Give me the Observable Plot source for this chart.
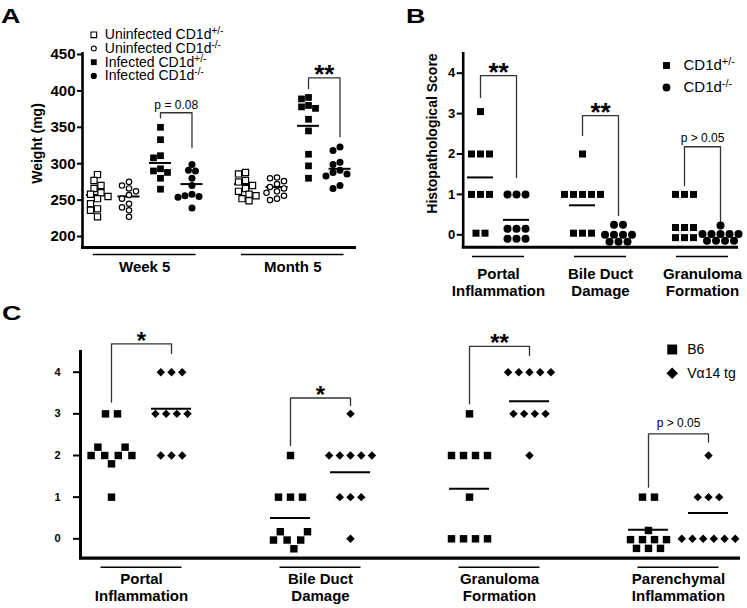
<!DOCTYPE html>
<html><head><meta charset="utf-8">
<script src="https://cdn.jsdelivr.net/npm/d3@7"></script>
<script src="https://cdn.jsdelivr.net/npm/@observablehq/plot@0.6"></script>
<style>
body{margin:0;background:#fff}
#fig{position:relative;width:747px;height:608px;font-family:"Liberation Sans",Arial,sans-serif;overflow:hidden}
#fig svg{position:absolute}
.letter{position:absolute;font-weight:bold;font-size:21px;line-height:1;transform-origin:left top;transform:scaleX(1.28)}
</style></head><body><div id="fig"></div>
<script>
// ================= DATA =================
// ---- Panel A : liver weight (mg) ----
const aTimepoints = ["Week 5", "Month 5"];
const aSeries = ["Uninfected CD1d^+/-", "Uninfected CD1d^-/-", "Infected CD1d^+/-", "Infected CD1d^-/-"];
const aWeek5 = [
  [285, 277, 270, 266, 260, 258, 255, 252, 245, 238, 236, 227],
  [275, 270, 266, 262, 257, 252, 245, 240, 236, 227],
  [350, 333, 311, 308, 293, 290, 288, 280, 265],
  [299, 291, 290, 280, 270, 258, 256, 255, 254, 239]
];
const aMonth5 = [
  [288, 286, 277, 275, 270, 266, 262, 258, 256, 252, 249],
  [281, 280, 276, 272, 268, 266, 262, 260, 256, 252, 250],
  [391, 389, 380, 378, 376, 361, 345, 313, 297, 280],
  [323, 318, 302, 299, 291, 288, 286, 283, 270, 266]
];
const aMeans = [[257, 255, 301, 272], [272, 268, 352, 293]];
const aYTicks = [200, 250, 300, 350, 400, 450];
const aBrackets = [
  {time: 0, from: 2, to: 3, left: 363, right: 322, top: 370, label: "p = 0.08"},
  {time: 1, from: 2, to: 3, left: 403, right: 337, top: 418, label: "**"}
];
const aYLabel = "Weight (mg)";

// ---- Panel B : histopathological score, CD1d ----
const bCategories = [["Portal", "Inflammation"], ["Bile Duct", "Damage"], ["Granuloma", "Formation"]];
const bSeries = ["CD1d^+/-", "CD1d^-/-"];
const bHet = [ // rows of points, top to bottom
  [[3.05], [2, 2, 2], [1, 1, 1], [0.04, 0.04]],
  [[2], [1, 1, 1, 1, 1], [0.04, 0.04, 0.04]],
  [[1, 1, 1], [0.18, 0.18, 0.18], [-0.07, -0.07, -0.07]]
];
const bKo = [
  [[1, 1, 1], [0.15, 0.15, 0.15], [-0.1, -0.1, -0.1]],
  [[0.25, 0.25], [0, 0, 0, 0], [-0.17, -0.17, -0.17]],
  [[0.23], [0.02, 0.02, 0.02, 0.02, 0.02], [-0.15, -0.15, -0.15, -0.15]]
];
const bMeans = [[1.42, 0.37], [0.73, null], [null, null]];
const bYTicks = [0, 1, 2, 3, 4];
const bBrackets = [
  {left: 3.4, right: 1.42, top: 3.94, label: "**"},
  {left: 2.46, right: 0.48, top: 2.95, label: "**"},
  {left: 1.22, right: 0.28, top: 2.18, label: "p > 0.05"}
];
const bYLabel = "Histopathological Score";

// ---- Panel C : histopathological score, B6 vs Va14 tg ----
const cCategories = [["Portal", "Inflammation"], ["Bile Duct", "Damage"], ["Granuloma", "Formation"], ["Parenchymal", "Inflammation"]];
const cSeries = ["B6", "V\u03b114 tg"];
const cB6 = [
  [[3, 3], [2, 2.2, 2, 1.8, 2, 2.2, 2], [1]],
  [[2], [1, 1, 1], [-0.03, 0.17, -0.03, -0.24, -0.03, 0.17]],
  [[3], [2, 2, 2, 2], [1], [0, 0, 0, 0]],
  [[1, 1], [0.2], [-0.02, -0.02, -0.02, -0.02], [-0.23, -0.23, -0.23]]
];
const cVa = [
  [[4, 4, 4], [3, 3, 3, 3], [2, 2, 2]],
  [[3], [2, 2, 2, 2, 2], [1, 1, 1], [0]],
  [[4, 4, 4, 4, 4], [3, 3, 3, 3], [2]],
  [[2], [1, 1, 1], [0, 0, 0, 0, 0, 0]]
];
const cMeans = [[null, 3.12], [0.5, 1.6], [1.2, 3.3], [0.22, 0.62]];
const cYTicks = [0, 1, 2, 3, 4];
const cBrackets = [
  {left: 3.28, right: 4.45, top: 4.68, label: "*"},
  {left: 2.24, right: 3.2, top: 3.38, label: "*"},
  {left: 3.24, right: 4.4, top: 4.62, label: "**"},
  {left: 1.24, right: 2.32, top: 2.52, label: "p > 0.05"}
];

// ================= HELPERS =================
const FONT = '"Liberation Sans", Arial, Helvetica, sans-serif';
const STYLE = {fontFamily: FONT, fontSize: "13px", background: "transparent", overflow: "visible"};
const fig = document.getElementById("fig");

function supify(svg) {
  svg.querySelectorAll("text").forEach(t => {
    const s = t.textContent;
    if (!s.includes("^")) return;
    const [base, sup] = s.split("^");
    t.textContent = base;
    const ts = document.createElementNS("http://www.w3.org/2000/svg", "tspan");
    ts.setAttribute("dy", "-5");
    ts.setAttribute("font-size", "0.72em");
    ts.textContent = sup;
    t.appendChild(ts);
  });
}
function place(svg, left, top) {
  svg.style.left = left + "px"; svg.style.top = top + "px";
  supify(svg); fig.appendChild(svg);
}
// greedy beeswarm: returns horizontal offsets (px) for values
function swarm(values, pxY, step, minDist) {
  const order = d3.range(values.length).sort((i, j) => values[j] - values[i]);
  const placed = [], off = new Array(values.length);
  for (const i of order) {
    const y = values[i] * pxY;
    for (let k = 0; ; k++) {
      const c = k === 0 ? 0 : (k % 2 ? -1 : 1) * Math.ceil(k / 2) * step;
      if (placed.every(p => (p.x - c) ** 2 + (p.y - y) ** 2 >= minDist * minDist)) {
        off[i] = c; placed.push({x: c, y}); break;
      }
    }
  }
  return off;
}
// rows of values -> points centred on x
function rowsToPoints(rows, cx, spacing, zig, pxX) {
  const pts = [];
  rows.forEach(row => {
    const same = row.every(v => v === row[0]);
    const s = (same ? spacing : zig) / pxX;
    row.forEach((v, i) => pts.push({x: cx + (i - (row.length - 1) / 2) * s, y: v}));
  });
  return pts;
}
function bracketPath(list, xl, xr) {
  const out = [];
  list.forEach((b, k) => {
    const [x1, x2] = [xl(b, k), xr(b, k)];
    out.push({id: k, x: x1, y: b.left}, {id: k, x: x1, y: b.top}, {id: k, x: x2, y: b.top}, {id: k, x: x2, y: b.right});
  });
  return out;
}

// ================= PANEL A =================
{
  const X = {domain: [0, 7.7], range: [97, 339.5]};
  const Y = {domain: [200, 450], range: [236, 54]};
  const pxX = (X.range[1] - X.range[0]) / 7.7, pxY = (Y.range[0] - Y.range[1]) / 250;
  const gx = (t, g) => t * 4.7 + g;
  const axX = (82 - 97) / pxX, axBottom = 200 - 11 / pxY, underY = 200 - 18 / pxY;
  const st = [
    {symbol: "square", fill: "white", stroke: "black", r: 3.5, lr: 3.2},
    {symbol: "circle", fill: "white", stroke: "black", r: 2.7, lr: 2.5},
    {symbol: "square", fill: "black", stroke: "none", r: 3.8, lr: 3.3},
    {symbol: "circle", fill: "black", stroke: "none", r: 3.5, lr: 3.1}
  ];
  const pts = [];
  [aWeek5, aMonth5].forEach((groups, t) => groups.forEach((vals, g) => {
    const off = swarm(vals, pxY, 3.5, 6.5);
    vals.forEach((v, i) => pts.push({g, v, x: gx(t, g) + off[i] / pxX}));
  }));
  const means = [];
  aMeans.forEach((m, t) => m.forEach((v, g) => means.push({x: gx(t, g), v})));
  const br = bracketPath(aBrackets, b => gx(b.time, b.from), b => gx(b.time, b.to));
  const legX = (93.3 - 97) / pxX, legY = i => 200 + (236 - 34.3 - i * 13.7) / pxY;
  const marks = [
    Plot.ruleX([axX], {y1: 200 + (236 - 52) / pxY, y2: axBottom, strokeWidth: 2.6}),
    Plot.ruleY(aYTicks, {y: d => d, x1: axX - 5 / pxX, x2: axX, strokeWidth: 2}),
    Plot.text(aYTicks, {x: axX, y: d => d, text: d => String(d), dx: -7, textAnchor: "end", fontWeight: "bold", fontSize: 15}),
    Plot.ruleY([axBottom], {x1: axX - 1 / pxX, x2: (356 - 97) / pxX, strokeWidth: 3}),
    Plot.ruleY(aTimepoints, {y: () => underY, x1: (d, i) => i * 4.7 + 1.5 - 1.63, x2: (d, i) => i * 4.7 + 1.5 + 1.63, strokeWidth: 1.4}),
    Plot.text(aTimepoints, {x: (d, i) => i * 4.7 + 1.5, y: () => underY, dy: 17.5, lineAnchor: "bottom", fontWeight: "bold", fontSize: 15}),
    Plot.text([aYLabel], {x: (37 - 97) / pxX, y: 200 + (236 - 143) / pxY, rotate: -90, fontWeight: "bold", fontSize: 14}),
    Plot.ruleY(means, {y: "v", x1: d => d.x - 11 / pxX, x2: d => d.x + 11 / pxX, strokeWidth: 2}),
    Plot.line(br, {x: "x", y: "y", z: "id", stroke: "#333", strokeWidth: 1.3}),
    Plot.text(aBrackets.filter(b => b.label.startsWith("p")), {x: b => (gx(b.time, b.from) + gx(b.time, b.to)) / 2, y: "top", text: "label", dy: -3.5, lineAnchor: "bottom", fontSize: 12}),
    Plot.text(aBrackets.filter(b => !b.label.startsWith("p")), {x: b => (gx(b.time, b.from) + gx(b.time, b.to)) / 2, y: "top", text: "label", dy: 5, lineAnchor: "bottom", fontSize: 26, fontWeight: "bold"}),
    ...st.map((s, g) => Plot.dot(pts.filter(p => p.g === g), {x: "x", y: "v", symbol: s.symbol, fill: s.fill, stroke: s.stroke, strokeWidth: 1.2, r: s.r})),
    ...st.map((s, i) => Plot.dot([aSeries[i]], {x: legX, y: legY(i), symbol: s.symbol, fill: s.fill, stroke: s.stroke, strokeWidth: 1.1, r: s.lr})),
    Plot.text(aSeries, {x: legX, y: (d, i) => legY(i), text: d => d, dx: 11, textAnchor: "start", fontSize: 14})
  ];
  place(Plot.plot({width: 370, height: 300, margin: 0, x: {...X, axis: null}, y: {...Y, axis: null}, style: STYLE, marks}), 0, 0);
}

// ================= PANEL B =================
{
  const X = {domain: [0, 2], range: [118, 322]};
  const Y = {domain: [0, 4], range: [234.3, 72.7]};
  const pxX = (X.range[1] - X.range[0]) / 2, pxY = (Y.range[0] - Y.range[1]) / 4;
  const off = 18 / pxX;
  const gx = (c, s) => c + (s === 0 ? -off : off);
  const axX = (82.7 - 118) / pxX, axBottom = -12.4 / pxY, underY = -21.7 / pxY;
  const st = [{symbol: "square", r: 3.95}, {symbol: "circle", r: 4}];
  const pts = [];
  [bHet, bKo].forEach((cats, s) => cats.forEach((rows, c) => rowsToPoints(rows, gx(c, s), 9, 9, pxX).forEach(p => pts.push({...p, s}))));
  const means = [];
  bMeans.forEach((m, c) => m.forEach((v, s) => { if (v != null) means.push({x: gx(c, s), v}); }));
  const br = bracketPath(bBrackets, (b, k) => gx(k, 0), (b, k) => gx(k, 1));
  const legX = (666 - 380 - 118) / pxX;
  const legY = i => (234.3 - 65 - i * 22) / pxY;
  const marks = [
    Plot.ruleX([axX], {y1: (234.3 - 52) / pxY, y2: axBottom, strokeWidth: 2.6}),
    Plot.ruleY(bYTicks, {y: d => d, x1: axX - 6 / pxX, x2: axX, strokeWidth: 2}),
    Plot.text(bYTicks, {x: axX, y: d => d, text: d => String(d), dx: -8, textAnchor: "end", fontWeight: "bold", fontSize: 13}),
    Plot.ruleY([axBottom], {x1: axX - 1 / pxX, x2: (358 - 118) / pxX, strokeWidth: 3}),
    Plot.ruleY(bCategories, {y: () => underY, x1: (d, i) => i - 26 / pxX, x2: (d, i) => i + 26 / pxX, strokeWidth: 1.4}),
    Plot.text(bCategories, {x: (d, i) => i, y: () => underY, text: d => d[0], dy: 22, lineAnchor: "bottom", fontWeight: "bold", fontSize: 15}),
    Plot.text(bCategories, {x: (d, i) => i, y: () => underY, text: d => d[1], dy: 39, lineAnchor: "bottom", fontWeight: "bold", fontSize: 15}),
    Plot.text([bYLabel], {x: (431.7 - 380 - 118) / pxX, y: (234.3 - 133) / pxY, rotate: -90, fontWeight: "bold", fontSize: 14}),
    Plot.ruleY(means, {y: "v", x1: d => d.x - 13 / pxX, x2: d => d.x + 13 / pxX, strokeWidth: 2}),
    Plot.line(br, {x: "x", y: "y", z: "id", stroke: "#333", strokeWidth: 1.3}),
    Plot.text(bBrackets.filter(b => b.label.startsWith("p")), {x: (b, k) => (gx(2, 0) + gx(2, 1)) / 2, y: "top", text: "label", dy: -5, lineAnchor: "bottom", fontSize: 12}),
    Plot.text(bBrackets.filter(b => !b.label.startsWith("p")), {x: (b, k) => (gx(k, 0) + gx(k, 1)) / 2, y: "top", text: "label", dy: 5, lineAnchor: "bottom", fontSize: 26, fontWeight: "bold"}),
    ...st.map((s, i) => Plot.dot(pts.filter(p => p.s === i), {x: "x", y: "y", symbol: s.symbol, fill: "black", r: s.r})),
    ...st.map((s, i) => Plot.dot([bSeries[i]], {x: legX, y: legY(i), symbol: s.symbol, fill: "black", r: 3.9})),
    Plot.text(bSeries, {x: legX, y: (d, i) => legY(i), text: d => d, dx: 17, textAnchor: "start", fontSize: 15})
  ];
  place(Plot.plot({width: 367, height: 300, margin: 0, x: {...X, axis: null}, y: {...Y, axis: null}, style: STYLE, marks}), 380, 0);
}

// ================= PANEL C =================
{
  const X = {domain: [0, 3], range: [141, 678]};
  const Y = {domain: [0, 4], range: [238.3, 71.7]};
  const pxX = (X.range[1] - X.range[0]) / 3, pxY = (Y.range[0] - Y.range[1]) / 4;
  const off = 30 / pxX;
  const gx = (c, s) => c + (s === 0 ? -off : off);
  const axX = (80 - 141) / pxX, axBottom = -19.4 / pxY, underY = -28.4 / pxY;
  const st = [{symbol: "square", r: 4.2, sp: 12, lr: 5.6}, {symbol: "diamond2", r: 3.8, sp: 10.7, lr: 5.2}];
  const pts = [];
  [cB6, cVa].forEach((cats, s) => cats.forEach((rows, c) => rowsToPoints(rows, gx(c, s), st[s].sp, 6.8, pxX).forEach(p => pts.push({...p, s}))));
  const means = [];
  cMeans.forEach((m, c) => m.forEach((v, s) => { if (v != null) means.push({x: gx(c, s), v}); }));
  const br = bracketPath(cBrackets, (b, k) => gx(k, 0), (b, k) => gx(k, 1));
  const legX = (671.7 - 141) / pxX;
  const legY = i => (238.3 - 49 - i * 23.7) / pxY;
  const marks = [
    Plot.ruleX([axX], {y1: (238.3 - 50) / pxY, y2: axBottom, strokeWidth: 3}),
    Plot.ruleY(cYTicks, {y: d => d, x1: axX - 7 / pxX, x2: axX, strokeWidth: 2}),
    Plot.text(cYTicks, {x: axX, y: d => d, text: d => String(d), dx: -20, textAnchor: "end", fontWeight: "bold", fontSize: 11}),
    Plot.ruleY([axBottom], {x1: axX - 1 / pxX, x2: (740 - 141) / pxX, strokeWidth: 3.2}),
    Plot.ruleY(cCategories, {y: () => underY, x1: (d, i) => i - 40.5 / pxX, x2: (d, i) => i + 40.5 / pxX, strokeWidth: 1.4}),
    Plot.text(cCategories, {x: (d, i) => i, y: () => underY, text: d => d[0], dy: 16.5, lineAnchor: "bottom", fontWeight: "bold", fontSize: 15}),
    Plot.text(cCategories, {x: (d, i) => i, y: () => underY, text: d => d[1], dy: 33.5, lineAnchor: "bottom", fontWeight: "bold", fontSize: 15}),
    Plot.ruleY(means, {y: "v", x1: d => d.x - 20 / pxX, x2: d => d.x + 20 / pxX, strokeWidth: 2}),
    Plot.line(br, {x: "x", y: "y", z: "id", stroke: "#333", strokeWidth: 1.3}),
    Plot.text(cBrackets.map((b, k) => ({...b, k})).filter(b => b.label.startsWith("p")), {x: b => (gx(b.k, 0) + gx(b.k, 1)) / 2, y: "top", text: "label", dy: -6.5, lineAnchor: "bottom", fontSize: 12}),
    Plot.text(cBrackets.map((b, k) => ({...b, k})).filter(b => !b.label.startsWith("p")), {x: b => (gx(b.k, 0) + gx(b.k, 1)) / 2, y: "top", text: "label", dy: 5, lineAnchor: "bottom", fontSize: 24, fontWeight: "bold"}),
    ...st.map((s, i) => Plot.dot(pts.filter(p => p.s === i), {x: "x", y: "y", symbol: s.symbol, fill: "black", r: s.r})),
    ...st.map((s, i) => Plot.dot([cSeries[i]], {x: legX, y: legY(i), symbol: s.symbol, fill: "black", r: s.lr})),
    Plot.text(cSeries, {x: legX, y: (d, i) => legY(i), text: d => d, dx: 15, textAnchor: "start", fontSize: 14})
  ];
  place(Plot.plot({width: 747, height: 308, margin: 0, x: {...X, axis: null}, y: {...Y, axis: null}, style: STYLE, marks}), 0, 300);
}

// ---- panel letters ----
[["A", 1, 4.5], ["B", 406, 4.5], ["C", 2, 302]].forEach(([t, l, tp]) => {
  const d = document.createElement("div");
  d.className = "letter"; d.textContent = t;
  d.style.left = l + "px"; d.style.top = tp + "px";
  fig.appendChild(d);
});
</script></body></html>
